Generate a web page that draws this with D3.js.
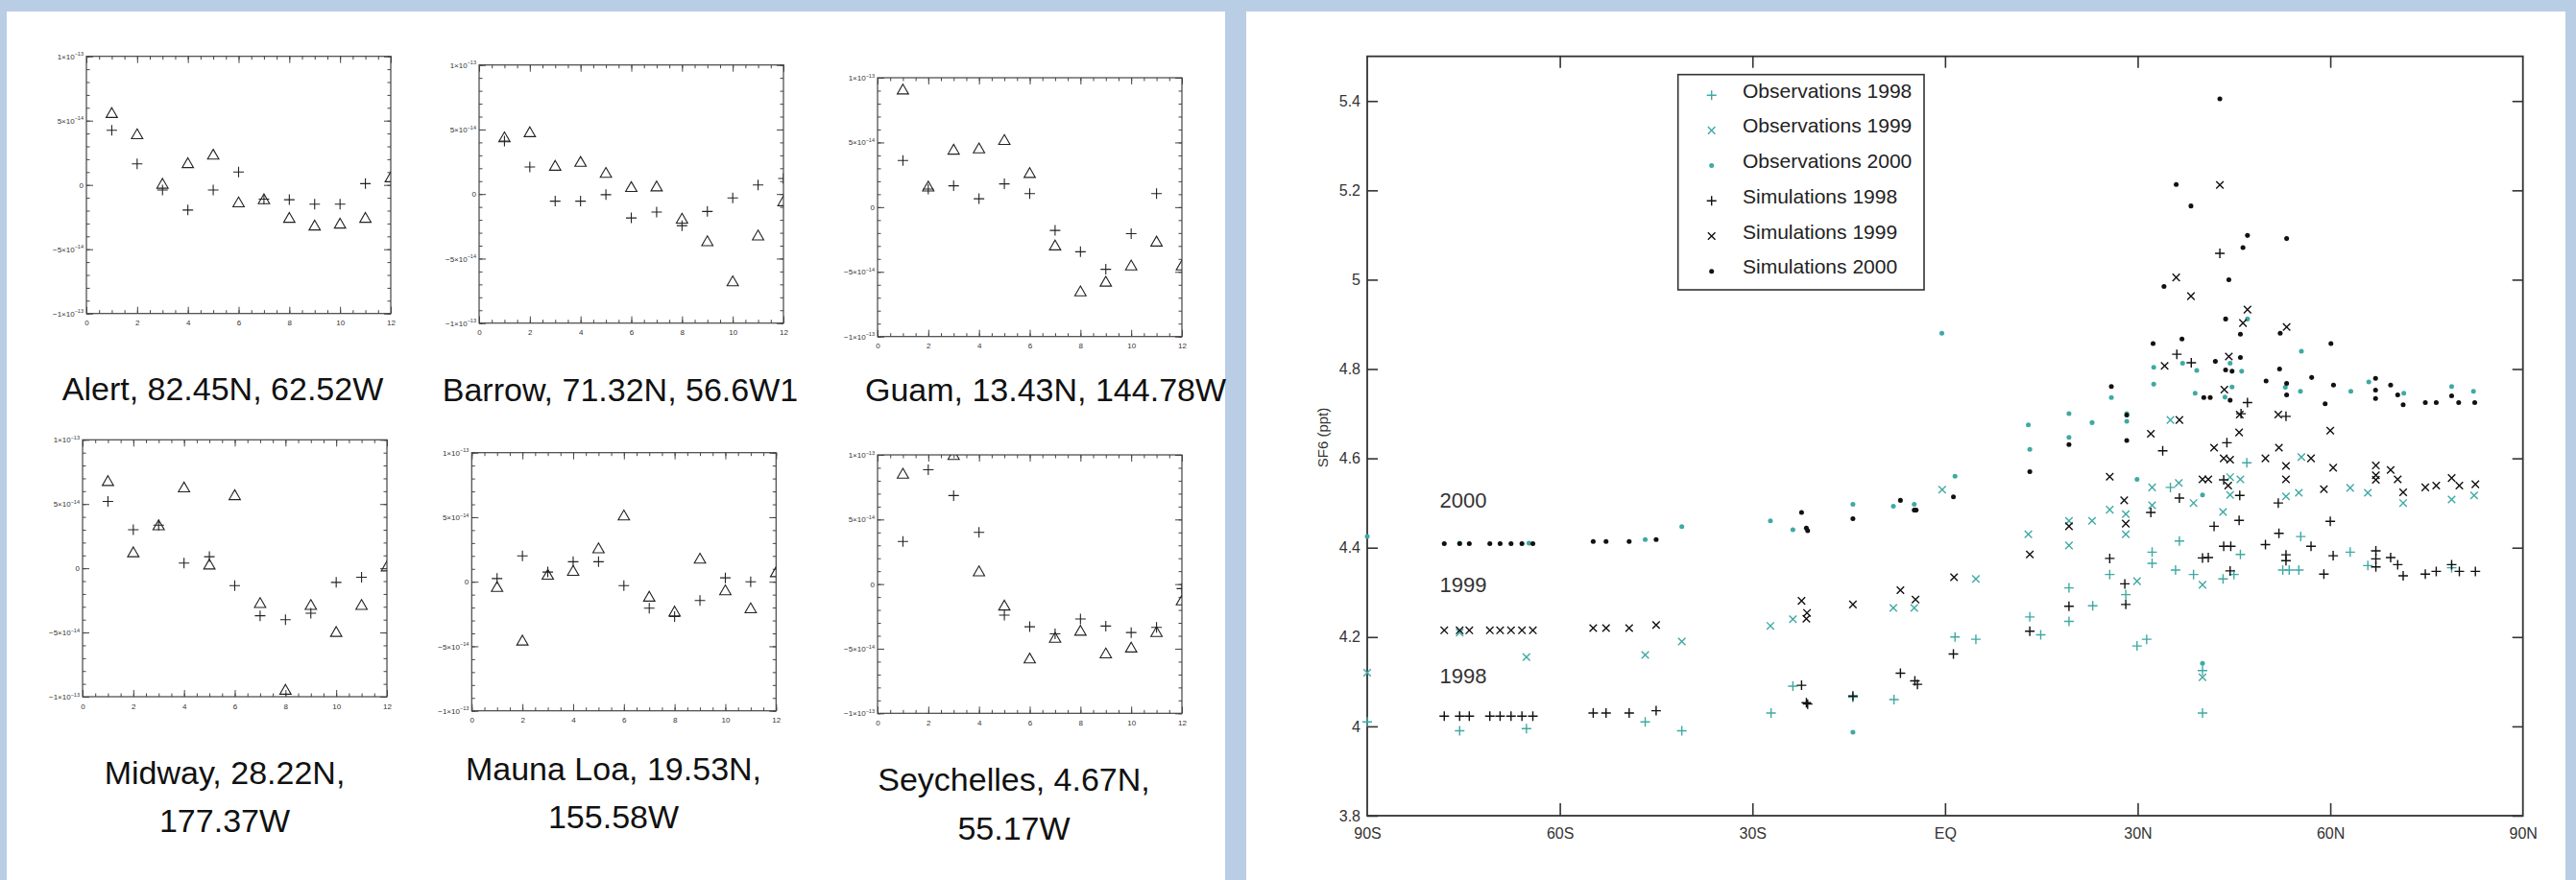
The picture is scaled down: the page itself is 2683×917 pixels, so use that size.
<!DOCTYPE html>
<html>
<head>
<meta charset="utf-8">
<script src="https://cdn.jsdelivr.net/npm/d3@7/dist/d3.min.js"></script>
<style>
  html, body { margin: 0; padding: 0; background: #b9cde5; }
  svg { display: block; }
</style>
</head>
<body>
<svg id="chart" width="2683" height="917"></svg>
<script>
// ---------- data: monthly anomalies (units of 1e-14), months 1..12 ----------
const months = d3.range(1, 13);
const stationTitles = [
  ["Alert, 82.45N, 62.52W"],
  ["Barrow, 71.32N, 56.6W1"],
  ["Guam, 13.43N, 144.78W"],
  ["Midway, 28.22N,", "177.37W"],
  ["Mauna Loa, 19.53N,", "155.58W"],
  ["Seychelles, 4.67N,", "55.17W"]
];
const alertTri   = [5.5, 3.85, 0.0, 1.6, 2.26, -1.45, -1.2, -2.65, -3.25, -3.1, -2.65, 0.5];
const alertPlus  = [4.25, 1.64, -0.4, -1.95, -0.4, 1.0, -1.1, -1.15, -1.5, -1.5, 0.1, null];
const barrowTri  = [4.3, 4.7, 2.1, 2.4, 1.55, 0.45, 0.5, -2.0, -3.75, -6.85, -3.3, -0.65];
const barrowPlus = [4.1, 2.1, -0.55, -0.55, -0.05, -1.85, -1.4, -2.45, -1.35, -0.3, 0.7, 1.2];
const guamTri    = [9.0, 1.5, 4.35, 4.45, 5.1, 2.55, -3.05, -6.6, -5.85, -4.6, -2.75, -4.6];
const guamPlus   = [3.6, 1.4, 1.65, 0.65, 1.8, 1.05, -1.8, -3.45, -4.8, -2.05, 1.05, null];
const midwayTri  = [6.7, 1.15, 3.25, 6.2, 0.2, 5.6, -2.8, -9.55, -2.95, -5.05, -2.95, 0.05];
const midwayPlus = [5.2, 3.0, 3.35, 0.4, 0.9, -1.35, -3.7, -4.0, -3.5, -1.1, -0.7, null];
const maunaTri   = [-0.5, -4.65, 0.45, 0.75, 2.5, 5.05, -1.25, -2.4, 1.7, -0.75, -2.15, 0.65];
const maunaPlus  = [0.25, 2.0, 0.75, 1.55, 1.55, -0.3, -2.05, -2.7, -1.45, 0.3, 0.0, null];
const seyTri     = [8.45, null, 9.9, 0.9, -1.75, -5.85, -4.25, -3.7, -5.45, -5.0, -3.8, -1.35];
const seyPlus    = [3.3, 8.85, 6.85, 4.0, -2.4, -3.3, -3.85, -2.7, -3.25, -3.75, -3.35, -0.35];
const stationTri  = [alertTri, barrowTri, guamTri, midwayTri, maunaTri, seyTri];
const stationPlus = [alertPlus, barrowPlus, guamPlus, midwayPlus, maunaPlus, seyPlus];
const monthTicks = [0, 2, 4, 6, 8, 10, 12];
const anomTicks = [-10, -5, 0, 5, 10];

// ---------- data: SF6 (ppt) against latitude ----------
const latTicks = [-90, -60, -30, 0, 30, 60, 90];
const sf6Ticks = [3.8, 4.0, 4.2, 4.4, 4.6, 4.8, 5.0, 5.2, 5.4];
const seriesNames = ["Observations 1998", "Observations 1999", "Observations 2000",
                     "Simulations 1998", "Simulations 1999", "Simulations 2000"];
const obs1998 = [[-90,4.01],[-75.6,3.99],[-65.2,3.995],[-46.7,4.01],[-41,3.99],
  [-27.1,4.03],[-23.7,4.09],[-14.35,4.065],[-7.95,4.06],[1.55,4.2],[4.8,4.195],[13.2,4.245],
  [14.9,4.205],[19.3,4.31],[19.3,4.235],[23,4.27],
  [25.65,4.34],[28.15,4.295],[29.9,4.18],[31.4,4.195],[32.25,4.39],[32.25,4.365],[35.1,4.535],
  [35.9,4.35],[36.5,4.415],[38.7,4.34],[40.1,4.03],[40.1,4.125],[43.3,4.33],[45,4.34],
  [46,4.385],[47,4.59],[52.6,4.35],[53.6,4.35],[55.1,4.35],[55.4,4.425],[63.1,4.39],
  [65.85,4.36],[78.9,4.355]];
const obs1999 = [[-90,4.12],[-75.6,4.21],[-65.2,4.155],[-46.7,4.16],[-41,4.19],
  [-27.2,4.225],[-23.7,4.24],[-8.05,4.265],[-4.8,4.265],[-0.45,4.53],[4.8,4.33],[12.97,4.43],
  [19.3,4.46],[19.3,4.405],[22.9,4.46],
  [25.65,4.485],[28.15,4.475],[28.15,4.43],[29.9,4.325],[32.25,4.535],[32.25,4.495],[35.1,4.686],
  [36.4,4.545],[38.7,4.5],[40.1,4.317],[40.1,4.11],[43.3,4.48],[44.4,4.558],[44.4,4.518],
  [46,4.553],[53.1,4.515],[55.1,4.523],[55.5,4.603],[63.1,4.534],[65.85,4.523],[71.35,4.5],
  [78.9,4.508],[82.4,4.517]];
const obs2000 = [[-90,4.425],[-75.6,4.41],[-64.8,4.41],[-46.7,4.418],[-41,4.447],
  [-27.2,4.46],[-23.7,4.44],[-14.35,4.497],[-8.05,4.493],[-4.8,4.497],[-0.5,4.88],[1.55,4.56],
  [-14.35,3.987],[12.97,4.675],[13.2,4.62],[19.3,4.7],[19.3,4.647],[22.9,4.68],
  [25.9,4.736],[28.3,4.7],[28.3,4.683],[29.9,4.553],[32.5,4.804],[32.5,4.766],[37,4.813],
  [38.95,4.746],[39.2,4.797],[40.1,4.518],[40.1,4.141],[43.6,4.737],[44.4,4.813],[44.7,4.76],
  [46.2,4.795],[47.1,4.912],[53,4.759],[55.35,4.75],[55.5,4.84],[63.2,4.75],[66,4.771],
  [71.45,4.746],[78.9,4.761],[82.3,4.75]];
const sim1998 = [[-78,4.023],[-75.6,4.023],[-74.1,4.023],[-70.9,4.023],[-69.3,4.023],
  [-67.6,4.023],[-65.9,4.023],[-64.2,4.023],[-54.8,4.03],[-52.8,4.03],[-49.2,4.03],[-45,4.035],
  [-22.35,4.092],[-21.6,4.053],[-21.4,4.05],[-14.35,4.068],[-6.95,4.119],[-4.7,4.102],
  [-4.3,4.094],[1.3,4.162],[13.2,4.213],[19.3,4.269],
  [25.65,4.376],[28,4.319],[28.15,4.273],[32.05,4.479],[33.9,4.617],[36.5,4.511],[40.1,4.377],
  [41,4.378],[41.9,4.448],[43.4,4.552],[43.9,4.635],[43.4,4.403],[44.5,4.403],[44.4,4.348],
  [45.8,4.461],[45.9,4.517],[46.1,4.7],[47.1,4.725],[49.9,4.407],[52,4.432],[51.9,4.5],
  [53.1,4.694],[53.1,4.384],[53.1,4.371],[57,4.403],[59,4.341],[60,4.459],[60.45,4.382],
  [67.1,4.393],[67.1,4.375],[67.1,4.357],[69.4,4.378],[70.5,4.362],[71.35,4.337],[74.8,4.341],
  [76.5,4.347],[78.9,4.362],[80.1,4.347],[82.6,4.347],[42.8,5.059],[36.1,4.833],[38.35,4.814]];
const sim1999 = [[-78,4.215],[-75.6,4.215],[-74.1,4.215],[-70.9,4.215],[-69.3,4.215],
  [-67.6,4.215],[-65.9,4.215],[-64.2,4.215],[-54.8,4.22],[-52.8,4.22],[-49.2,4.22],[-45,4.227],
  [-22.35,4.281],[-21.5,4.254],[-21.6,4.241],[-14.35,4.273],[-6.95,4.305],[-4.6,4.284],
  [1.4,4.334],[13.2,4.385],[19.3,4.448],
  [25.65,4.559],[27.9,4.506],[28.15,4.454],[32.05,4.655],[36.5,4.686],[40.1,4.553],[41,4.553],
  [41.9,4.624],[43.4,4.6],[44.4,4.597],[44.1,4.539],[43.5,4.754],[45.8,4.658],[45.9,4.698],
  [49.9,4.6],[51.9,4.698],[52,4.624],[53.1,4.583],[53.1,4.553],[57,4.6],[59,4.531],[60,4.662],
  [60.45,4.579],[67.1,4.584],[67.1,4.562],[67.1,4.552],[69.4,4.574],[70.5,4.553],[71.35,4.524],
  [74.8,4.535],[76.5,4.539],[78.9,4.556],[80.1,4.539],[82.6,4.542],
  [42.8,5.212],[36,5.005],[38.3,4.963],[47.1,4.933],[46.4,4.903],[53.2,4.894],[44.2,4.828],
  [34.2,4.807]];
const sim2000 = [[-78,4.409],[-75.6,4.409],[-74.1,4.409],[-70.9,4.409],[-69.3,4.409],
  [-67.6,4.409],[-65.9,4.409],[-64.2,4.409],[-54.8,4.414],[-52.8,4.414],[-49.2,4.414],[-45,4.418],
  [-22.35,4.479],[-21.6,4.444],[-21.4,4.438],[-14.35,4.465],[-6.95,4.506],[-4.8,4.484],
  [-4.5,4.484],[1.3,4.514],[13.2,4.57],[19.3,4.631],
  [42.8,5.405],[36,5.213],[38.3,5.165],[47.1,5.099],[53.2,5.092],[46.4,5.072],[44.2,5.0],
  [34.1,4.985],[43.7,4.912],[46,4.878],[52.2,4.88],[32.4,4.857],[36.9,4.867],[46,4.826],
  [42.1,4.817],[43.7,4.798],[44.7,4.795],[52.1,4.8],[60.1,4.857],[50,4.773],[57.1,4.781],
  [67.05,4.779],[53.2,4.768],[53.2,4.742],[60.5,4.764],[67.05,4.753],[67.05,4.734],[69.4,4.764],
  [70.5,4.742],[71.35,4.72],[74.8,4.725],[76.5,4.725],[80,4.725],[82.5,4.725],[78.9,4.74],
  [59.2,4.722],[40.3,4.736],[41.3,4.736],[44.4,4.73],[25.9,4.761],[28.3,4.697],[28.3,4.64]];
const yearLabels = [["2000", -78.7, 4.49], ["1999", -78.7, 4.301], ["1998", -78.7, 4.097]];

// ---------- page ----------
const svg = d3.select('#chart');
const teal = '#3fa9a4';
const ink = '#222';

svg.append('rect').attr('width', 2683).attr('height', 917).attr('fill', '#b9cde5');
svg.append('rect').attr('x', 7).attr('y', 12).attr('width', 1269).attr('height', 905).attr('fill', '#fff');
svg.append('rect').attr('x', 1298).attr('y', 12).attr('width', 1374).attr('height', 905).attr('fill', '#fff');

// ---------- small panels ----------
// plot box [left, top, width, height], title centre x, title baselines
const panelLayout = [
  {box: [90, 58.7, 317, 268], tx: 232, ty: [416.7]},
  {box: [499, 67.7, 317, 269], tx: 646, ty: [418.3]},
  {box: [914, 81, 317, 269.7], tx: 1089, ty: [418.3]},
  {box: [86, 458.3, 317, 267.7], tx: 234, ty: [816.7, 866.7]},
  {box: [491.3, 471.7, 317, 269], tx: 639, ty: [812.7, 863.3]},
  {box: [914, 474, 317, 269.3], tx: 1056, ty: [824.3, 875]}
];

function sciLabel(sel) {
  sel.each(function(d) {
    const t = d3.select(this).text(null);
    if (d === 0) { t.text('0'); return; }
    const big = Math.abs(d) === 10;
    t.append('tspan').text((d < 0 ? '\u2212' : '') + (big ? '1' : '5') + '\u00d710');
    t.append('tspan').attr('dy', -3.5).attr('font-size', 5.5).text(big ? '\u221213' : '\u221214');
  });
}

const markerTri = d3.symbol().type(d3.symbolTriangle).size(60);

panelLayout.forEach((p, i) => {
  const [left, top, w, h] = p.box;
  const xs = d3.scaleLinear().domain([0, 12]).range([0, w]);
  const ys = d3.scaleLinear().domain([-10, 10]).range([h, 0]);
  const g = svg.append('g').attr('transform', `translate(${left},${top})`)
    .attr('font-family', 'Liberation Sans, Arial, sans-serif').attr('font-size', 8);

  const clipId = 'clip' + i;
  g.append('clipPath').attr('id', clipId).append('rect').attr('width', w).attr('height', h);

  const minorX = d3.range(0, 12.01, 0.5);
  const minorY = d3.range(-10, 10.01, 1);
  const axes = [
    [d3.axisBottom(xs).tickValues(monthTicks).tickSize(-7).tickPadding(7), `translate(0,${h})`, true],
    [d3.axisBottom(xs).tickValues(minorX).tickSize(-3.5).tickFormat(''), `translate(0,${h})`],
    [d3.axisTop(xs).tickValues(monthTicks).tickSize(-7).tickFormat(''), null],
    [d3.axisTop(xs).tickValues(minorX).tickSize(-3.5).tickFormat(''), null],
    [d3.axisLeft(ys).tickValues(anomTicks).tickSize(-7).tickPadding(3), null, 'y'],
    [d3.axisLeft(ys).tickValues(minorY).tickSize(-3.5).tickFormat(''), null],
    [d3.axisRight(ys).tickValues(anomTicks).tickSize(-7).tickFormat(''), `translate(${w},0)`],
    [d3.axisRight(ys).tickValues(minorY).tickSize(-3.5).tickFormat(''), `translate(${w},0)`]
  ];
  axes.forEach(([ax, tr, lab]) => {
    const a = g.append('g').call(ax);
    if (tr) a.attr('transform', tr);
    a.select('.domain').remove();
    a.selectAll('.tick line').attr('stroke', '#444').attr('stroke-width', 1);
    a.selectAll('.tick text').attr('fill', '#333').attr('font-size', 8)
      .attr('font-family', 'Liberation Sans, Arial, sans-serif');
    if (lab === 'y') a.selectAll('.tick text').call(sciLabel);
  });
  g.append('rect').attr('width', w).attr('height', h)
    .attr('fill', 'none').attr('stroke', '#444').attr('stroke-width', 1.2);

  const pts = g.append('g').attr('clip-path', `url(#${clipId})`);
  const tri = months.map((m, k) => [m, stationTri[i][k]]).filter(d => d[1] !== null);
  const plus = months.map((m, k) => [m, stationPlus[i][k]]).filter(d => d[1] !== null);
  pts.selectAll('path.tri').data(tri).join('path').attr('class', 'tri')
    .attr('d', markerTri)
    .attr('transform', d => `translate(${xs(d[0])},${ys(d[1])})`)
    .attr('fill', 'none').attr('stroke', ink).attr('stroke-width', 1.1);
  pts.selectAll('path.plus').data(plus).join('path').attr('class', 'plus')
    .attr('d', 'M-5.5,0H5.5M0,-5.5V5.5')
    .attr('transform', d => `translate(${xs(d[0])},${ys(d[1])})`)
    .attr('stroke', ink).attr('stroke-width', 1.1);

  svg.append('g').selectAll('text').data(stationTitles[i]).join('text')
    .attr('x', p.tx).attr('y', (d, k) => p.ty[k])
    .attr('text-anchor', 'middle')
    .attr('font-family', 'Liberation Sans, Arial, sans-serif')
    .attr('font-size', 34).attr('fill', '#111')
    .text(d => d);
});

// ---------- latitude chart ----------
const x = d3.scaleLinear().domain([-90, 90]).range([1424, 2627.7]);
const y = d3.scaleLinear().domain([3.8, 5.5]).range([850, 58.7]);
const latFmt = v => v === 0 ? 'EQ' : (v < 0 ? `${-v}S` : `${v}N`);
const main = svg.append('g').attr('font-family', 'Liberation Sans, Arial, sans-serif');

const innerLat = latTicks.slice(1, -1);
const mainAxes = [
  [d3.axisBottom(x).tickValues(latTicks).tickFormat(latFmt).tickSize(-13).tickPadding(13), `translate(0,${y(3.8)})`],
  [d3.axisTop(x).tickValues(innerLat).tickFormat('').tickSize(-12), `translate(0,${y(5.5)})`],
  [d3.axisLeft(y).tickValues(sf6Ticks).tickFormat(d3.format('')).tickSize(-11).tickPadding(7), `translate(${x(-90)},0)`],
  [d3.axisRight(y).tickValues(sf6Ticks).tickFormat('').tickSize(-11), `translate(${x(90)},0)`]
];
mainAxes.forEach(([ax, tr]) => {
  const a = main.append('g').attr('transform', tr).call(ax);
  a.select('.domain').remove();
  a.selectAll('.tick line').attr('stroke', '#333').attr('stroke-width', 1.6);
  a.selectAll('.tick text').attr('fill', '#333').attr('font-size', 16)
    .attr('font-family', 'Liberation Sans, Arial, sans-serif');
});
// hide bottom ticks at the frame corners
main.selectAll('.tick').filter(d => d === -90 || d === 90).select('line').remove();
main.append('rect').attr('x', x(-90)).attr('y', y(5.5))
  .attr('width', x(90) - x(-90)).attr('height', y(3.8) - y(5.5))
  .attr('fill', 'none').attr('stroke', '#333').attr('stroke-width', 1.8);

main.append('text')
  .attr('transform', `translate(1383,${456}) rotate(-90)`)
  .attr('text-anchor', 'middle').attr('font-size', 15).attr('fill', '#333')
  .text('SF6 (ppt)');

const shapes = {
  plus: 'M-5,0H5M0,-5V5',
  cross: 'M-3.8,-3.8L3.8,3.8M-3.8,3.8L3.8,-3.8',
  dot: d3.symbol().type(d3.symbolCircle).size(20)()
};
const seriesData = [obs1998, obs1999, obs2000, sim1998, sim1999, sim2000];
const seriesShape = ['plus', 'cross', 'dot', 'plus', 'cross', 'dot'];
const seriesColor = [teal, teal, teal, '#111', '#111', '#111'];

function drawMarker(sel, k) {
  sel.attr('d', shapes[seriesShape[k]]);
  if (seriesShape[k] === 'dot') sel.attr('fill', seriesColor[k]).attr('stroke', 'none');
  else sel.attr('fill', 'none').attr('stroke', seriesColor[k]).attr('stroke-width', 1.4);
}

seriesData.forEach((data, k) => {
  main.append('g').selectAll('path').data(data).join('path')
    .attr('transform', d => `translate(${x(d[0])},${y(d[1])})`)
    .call(drawMarker, k);
});

main.append('g').selectAll('text').data(yearLabels).join('text')
  .attr('x', d => x(d[1])).attr('y', d => y(d[2]))
  .attr('font-size', 22).attr('fill', '#333')
  .text(d => d[0]);

// legend
const leg = main.append('g').attr('transform', 'translate(1747.7,77.7)');
leg.append('rect').attr('width', 256.3).attr('height', 224.3)
  .attr('fill', '#fff').attr('stroke', '#333').attr('stroke-width', 1.6);
seriesNames.forEach((name, k) => {
  const row = leg.append('g').attr('transform', `translate(0,${24 + k * 36.7})`);
  row.append('path').attr('transform', 'translate(35,-2.5)').call(drawMarker, k);
  row.append('text').attr('x', 67.3).attr('y', 0)
    .attr('font-size', 21).attr('fill', '#222').text(name);
});
</script>
</body>
</html>
